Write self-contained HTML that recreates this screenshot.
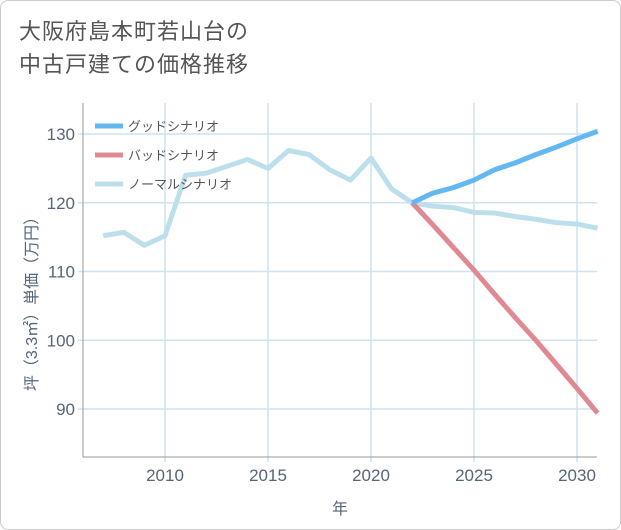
<!DOCTYPE html>
<html><head><meta charset="utf-8"><style>
body{margin:0;background:#fff;font-family:"Liberation Sans","Noto Sans CJK JP",sans-serif}
#wrap{position:relative;width:619px;height:528px;border:1px solid #ccc;border-radius:8px;overflow:hidden;background:#fff}
#title{position:absolute;left:18px;top:14px;font-size:22px;line-height:33px;color:#555;letter-spacing:1px}
</style></head><body>
<div id="wrap">
<div id="title">大阪府島本町若山台の<br>中古戸建ての価格推移</div>
<svg id="chart" width="621" height="530" style="position:absolute;left:-1px;top:-1px"></svg>
</div>
<script>
const years=[2007,2008,2009,2010,2011,2012,2013,2014,2015,2016,2017,2018,2019,2020,2021,2022,2023,2024,2025,2026,2027,2028,2029,2030,2031];
const normal=[115.2,115.7,113.8,115.2,124,124.3,125.3,126.3,125,127.6,127,124.8,123.3,126.5,122,120,119.5,119.3,118.6,118.5,118,117.6,117.1,116.9,116.3];
const goodYears=[2022,2023,2024,2025,2026,2027,2028,2029,2030,2031];
const good=[120,121.4,122.2,123.3,124.8,125.8,127,128.1,129.3,130.4];
const bad=[120,116.8,113.5,110.2,106.7,103.3,100,96.5,93,89.4];
const xTicks=[2010,2015,2020,2025,2030];
const yTicks=[90,100,110,120,130];
const NS="http://www.w3.org/2000/svg";
const svg=document.getElementById('chart');
const L=83,R=597,T=103,B=457;
const x=v=>165+(v-2010)*20.6;
const y=v=>134+(130-v)*6.875;
function mk(t,a){const e=document.createElementNS(NS,t);for(const k in a)e.setAttribute(k,a[k]);svg.appendChild(e);return e;}
for(const t of xTicks){
 const g=mk('line',{x1:x(t),x2:x(t),y1:T,y2:B+5,stroke:'#cfe3ee','stroke-width':1.5});
 
 
 const l=mk('text',{x:x(t),y:B+24,'text-anchor':'middle','font-size':17,fill:'#56657a'});l.textContent=t;
 
 
}
for(const t of yTicks){
 const g=mk('line',{x1:L-5,x2:R,y1:y(t),y2:y(t),stroke:'#cfe3ee','stroke-width':1.5});
 
 
 const l=mk('text',{x:L-8,y:y(t)+6,'text-anchor':'end','font-size':17,fill:'#56657a'});l.textContent=t;
 
 
}
const ax=mk('path',{d:`M${L} ${T}V${B}H${R}`,fill:'none',stroke:'#999','stroke-width':1});


function line(xs,vs,c,n){const p=mk('polyline',{points:xs.map((v,i)=>x(v)+','+y(vs[i])).join(' '),fill:'none',stroke:c,'stroke-width':5,'stroke-linejoin':'round'});
 
 }
line(years,normal,'#bddfec','normal-scenario-line');
line(goodYears,bad,'#df8a92','bad-scenario-line');
line(goodYears,good,'#63b8f2','good-scenario-line');
const leg=[['グッドシナリオ','#63b8f2'],['バッドシナリオ','#df8a92'],['ノーマルシナリオ','#bddfec']];
leg.forEach((d,i)=>{const yy=126+i*29;
 const s=mk('line',{x1:95,x2:123,y1:yy,y2:yy,stroke:d[1],'stroke-width':5});
 
 
 const t=mk('text',{x:128,y:yy+5,'font-size':13,fill:'#555'});t.textContent=d[0];
 
 });
const xt=mk('text',{x:340,y:514,'text-anchor':'middle','font-size':16,fill:'#56657a'});xt.textContent='年';


const yt=mk('text',{x:0,y:0,'text-anchor':'middle','font-size':16,fill:'#56657a',transform:'translate(37,300) rotate(-90)'});yt.textContent='坪（3.3㎡）単価（万円）';


</script>
</body></html>
